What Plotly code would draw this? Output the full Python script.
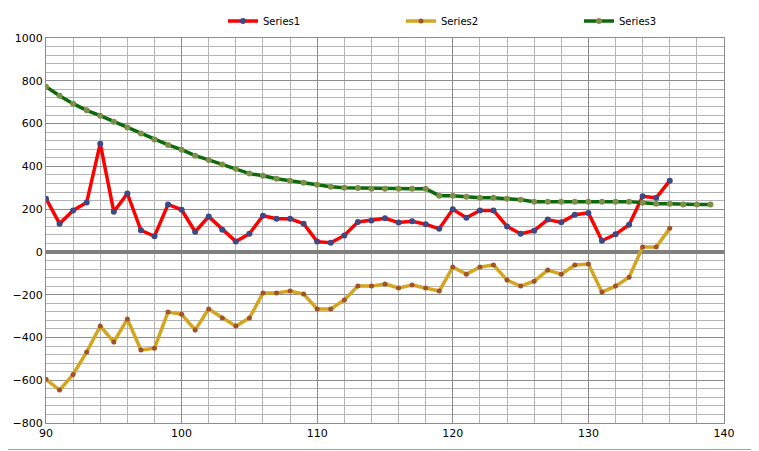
import plotly.graph_objects as go

x1 = list(range(90, 137))
series1 = [249, 132, 194, 231, 506, 188, 273, 101, 73, 222,
           197, 94, 165, 104, 48, 85, 169, 155, 155, 132,
           48, 43, 77, 140, 147, 157, 137, 143, 129, 108,
           199, 160, 194, 194, 119, 85, 99, 151, 138, 174,
           182, 52, 82, 127, 260, 253, 333]

x2 = list(range(90, 137))
series2 = [-596, -646, -573, -468, -347, -421, -314, -459, -450, -281,
           -292, -365, -267, -309, -347, -309, -192, -192, -183, -197,
           -267, -267, -225, -160, -160, -150, -169, -155, -169, -183,
           -71, -104, -71, -61, -132, -160, -137, -85, -104, -61,
           -57, -188, -160, -118, 23, 23, 110]

x3 = list(range(90, 140))
series3 = [772, 730, 693, 662, 637, 609, 581, 553, 525, 500,
           478, 450, 430, 408, 389, 366, 356, 342, 333, 323,
           314, 305, 300, 299, 295, 295, 295, 295, 295, 263,
           263, 258, 253, 253, 249, 244, 235, 235, 235, 235,
           235, 235, 235, 235, 230, 225, 225, 221, 221, 221]

fig = go.Figure()
fig.add_trace(go.Scatter(x=x1, y=series1, name="Series1", mode="lines+markers",
                         line=dict(color="#FF0000", width=3.5),
                         marker=dict(color="#3B4A84", size=6), legend="legend"))
fig.add_trace(go.Scatter(x=x2, y=series2, name="Series2", mode="lines+markers",
                         line=dict(color="#D4A520", width=3.5),
                         marker=dict(color="#A0522D", size=5), legend="legend2"))
fig.add_trace(go.Scatter(x=x3, y=series3, name="Series3", mode="lines+markers",
                         line=dict(color="#0B6A0B", width=3.5),
                         marker=dict(color="#7F8F4A", size=6), legend="legend3"))

grid_major = "#8C8C8C"
grid_minor = "#B4B4B4"
# page body has an 8px margin, so the figure is drawn 8px in from the top-left
W, H = 751, 443
L, T, R, B = 38, 30, 35, 28
PW, PH = W - L - R, H - T - B


def leg(px):
    return dict(orientation="h", xref="container", yref="container",
                x=px / W, xanchor="left", y=1 - 13 / H, yanchor="middle",
                itemwidth=30, font=dict(size=10), bgcolor="rgba(0,0,0,0)")


fig.update_layout(
    width=W, height=H,
    margin=dict(l=L, r=R, t=T, b=B, autoexpand=False),
    paper_bgcolor="white", plot_bgcolor="white",
    font=dict(family="DejaVu Sans", size=10, color="black"),
    showlegend=True,
    legend=leg(215), legend2=leg(393), legend3=leg(571),
    xaxis=dict(range=[90, 140], dtick=10, tick0=90, showgrid=True, gridcolor=grid_major,
               gridwidth=1, showline=True, linecolor=grid_major, mirror=True,
               zeroline=False, ticks="", tickfont=dict(size=11),
               minor=dict(dtick=2, showgrid=True, gridcolor=grid_minor, gridwidth=1)),
    yaxis=dict(range=[-800, 1000], dtick=200, showgrid=True, gridcolor=grid_major,
               gridwidth=1, showline=True, linecolor=grid_major, mirror=True,
               zeroline=True, zerolinecolor="#808080", zerolinewidth=4,
               ticks="", tickfont=dict(size=11),
               minor=dict(dtick=40, showgrid=True, gridcolor=grid_minor, gridwidth=1)),
    shapes=[
        dict(type="line", xref="paper", yref="paper",
             x0=(W - 1.5 - L) / PW, x1=(W - 1.5 - L) / PW,
             y0=(H - T - B - (H - 1.5 - T)) / PH, y1=(PH + T) / PH,
             line=dict(color="#A0A0A0", width=1)),
        dict(type="line", xref="paper", yref="paper",
             x0=-L / PW, x1=(W - 1.5 - L) / PW,
             y0=(PH - (H - 1.5 - T)) / PH, y1=(PH - (H - 1.5 - T)) / PH,
             line=dict(color="#A0A0A0", width=1)),
    ],
)

fig.write_html("out.html")
